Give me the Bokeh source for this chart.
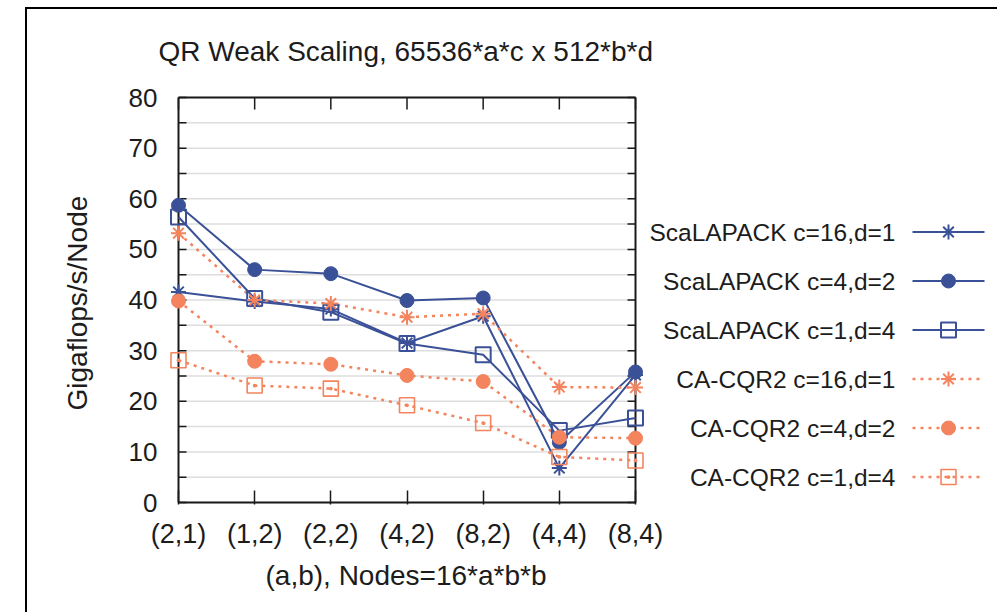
from bokeh.plotting import figure
from bokeh.models import Range1d, FixedTicker, Title, InlineStyleSheet
from bokeh.embed import file_html
from bokeh.resources import INLINE
from bokeh.core.properties import value

# ---------------- data ----------------
categories = ["(2,1)", "(1,2)", "(2,2)", "(4,2)", "(8,2)", "(4,4)", "(8,4)"]
series_names = [
    "ScaLAPACK c=16,d=1",
    "ScaLAPACK c=4,d=2",
    "ScaLAPACK c=1,d=4",
    "CA-CQR2 c=16,d=1",
    "CA-CQR2 c=4,d=2",
    "CA-CQR2 c=1,d=4",
]
scalapack_c16_d1 = [41.6, 39.7, 38.2, 31.5, 36.8, 6.8, 25.2]
scalapack_c4_d2 = [58.7, 46.0, 45.2, 39.9, 40.4, 11.9, 25.8]
scalapack_c1_d4 = [56.4, 40.3, 37.6, 31.4, 29.2, 14.2, 16.7]
cacqr2_c16_d1 = [53.2, 40.0, 39.3, 36.6, 37.3, 22.8, 22.7]
cacqr2_c4_d2 = [39.8, 27.9, 27.3, 25.1, 23.9, 12.9, 12.7]
cacqr2_c1_d4 = [28.1, 23.1, 22.5, 19.2, 15.7, 9.0, 8.3]
y_tick_labels = [0, 10, 20, 30, 40, 50, 60, 70, 80]
y_grid_values = [0, 5, 10, 15, 20, 25, 30, 35, 40, 45, 50, 55, 60, 65, 70, 75, 80]
title_text = "QR Weak Scaling, 65536*a*c x 512*b*d"
x_label_text = "(a,b), Nodes=16*a*b*b"
y_label_text = "Gigaflops/s/Node"

all_series = [scalapack_c16_d1, scalapack_c4_d2, scalapack_c1_d4,
              cacqr2_c16_d1, cacqr2_c4_d2, cacqr2_c1_d4]

# ---------------- styles ----------------
BLUE = "#3b5197"
ORANGE = "#f4845e"
TEXT = "#1c1c1c"
AXIS = "#1a1a1a"
FONT = "Liberation Sans"
styles = [
    dict(color=BLUE, dash="solid", lw=2.0, marker="asterisk", size=15, fill=None, mlw=2.0),
    dict(color=BLUE, dash="solid", lw=2.0, marker="circle", size=14, fill=BLUE, mlw=1.0),
    dict(color=BLUE, dash="solid", lw=2.0, marker="square", size=15, fill=None, mlw=2.0),
    dict(color=ORANGE, dash="3 5", lw=2.5, marker="asterisk", size=15, fill=None, mlw=2.0),
    dict(color=ORANGE, dash="3 5", lw=2.5, marker="circle", size=14, fill=ORANGE, mlw=1.0),
    dict(color=ORANGE, dash="3 5", lw=2.5, marker="square_dot", size=15, fill=None, mlw=1.6),
]

# ---------------- layout geometry (page pixels) ----------------
CANVAS_X0, CANVAS_Y0 = 27, 9           # page position of canvas (after css border)
CANVAS_W, CANVAS_H = 972, 605
BOX_L, BOX_R = 178, 635                # page x of first / last category
BOX_T, BOX_B = 97, 502                 # page y of top / bottom value
FRAME_L, FRAME_R = 160, 999            # page x of bokeh frame
FRAME_T, FRAME_B = 67, 504             # page y of bokeh frame
n = len(categories)
y_lo, y_hi = y_tick_labels[0], y_tick_labels[-1]
ppx = (BOX_R - BOX_L) / (n - 1)
ppy = (BOX_B - BOX_T) / (y_hi - y_lo)
x_start = -(BOX_L - FRAME_L) / ppx
x_end = (n - 1) + (FRAME_R - BOX_R) / ppx
y_start = y_lo - (FRAME_B - BOX_B) / ppy
y_end = y_hi + (BOX_T - FRAME_T) / ppy


def dx(page_x):
    return (page_x - BOX_L) / ppx


def dy(page_y):
    return y_lo + (BOX_B - page_y) / ppy


p = figure(width=CANVAS_W, height=CANVAS_H,
           x_range=Range1d(x_start, x_end), y_range=Range1d(y_start, y_end),
           output_backend="svg", toolbar_location=None,
           min_border_left=FRAME_L - CANVAS_X0, min_border_right=CANVAS_X0 + CANVAS_W - FRAME_R,
           min_border_top=FRAME_T - CANVAS_Y0,
           min_border_bottom=CANVAS_Y0 + CANVAS_H - FRAME_B,
           stylesheets=[InlineStyleSheet(css=":host { border-left: 2px solid #000; border-top: 2px solid #000; margin-left: 25px; margin-top: 7px; }")])
p.outline_line_color = None
p.xgrid.visible = False
p.ygrid.visible = False
p.background_fill_color = "white"
p.border_fill_color = "white"

# main title, above the frame, centred over the plot box
p.title = Title(text=title_text, align="left", offset=-2,
                vertical_align="middle", standoff=0, text_font=FONT,
                text_font_size="28px", text_font_style="normal", text_color=TEXT)

# left axis: labels only
ya = p.yaxis[0]
ya.ticker = FixedTicker(ticks=y_tick_labels)
ya.axis_line_color = None
ya.major_tick_in = 0
ya.major_tick_out = 0
ya.minor_tick_line_color = None
ya.major_label_text_font = FONT
ya.major_label_text_font_size = "26px"
ya.major_label_text_color = TEXT
ya.major_label_standoff = 3

# bottom axis
xa = p.xaxis[0]
xa.ticker = FixedTicker(ticks=list(range(n)))
xa.major_label_overrides = {i: c for i, c in enumerate(categories)}
xa.axis_line_color = None
xa.major_tick_in = 14
xa.major_tick_out = 0
xa.major_tick_line_width = 1.5
xa.major_tick_line_color = AXIS
xa.minor_tick_line_color = None
xa.major_label_text_font = FONT
xa.major_label_text_font_size = "27px"
xa.major_label_text_color = TEXT
xa.major_label_standoff = 14

# axis titles placed in the side panels
p.add_layout(Title(text=x_label_text, align="left", offset=105,
                   vertical_align="top", standoff=17, text_font=FONT,
                   text_font_size="28px", text_font_style="normal",
                   text_color=TEXT), "below")
p.add_layout(Title(text=y_label_text, align="left", offset=FRAME_B - 410,
                   vertical_align="middle", standoff=64, text_font=FONT,
                   text_font_size="28px", text_font_style="normal",
                   text_color=TEXT), "left")

# grid lines
p.segment(x0=0, x1=n - 1, y0=y_grid_values, y1=y_grid_values,
          line_color="#dedede", line_width=1.5)

# y ticks (inward, both sides) and top ticks
ytick_len = 8 / ppx
p.segment(x0=0, x1=ytick_len, y0=y_grid_values, y1=y_grid_values,
          line_color=AXIS, line_width=1.5)
p.segment(x0=n - 1 - ytick_len, x1=n - 1, y0=y_grid_values, y1=y_grid_values,
          line_color=AXIS, line_width=1.5)
xtick_len = 12 / ppy
p.segment(x0=list(range(n)), x1=list(range(n)), y0=y_hi - xtick_len, y1=y_hi,
          line_color=AXIS, line_width=1.5)

# box
p.segment(x0=[0, 0, 0, n - 1], x1=[n - 1, n - 1, 0, n - 1],
          y0=[y_lo, y_hi, y_lo, y_lo], y1=[y_lo, y_hi, y_hi, y_hi],
          line_color=AXIS, line_width=2)

xs = list(range(n))
for vals, st in zip(all_series, styles):
    p.line(xs, vals, line_color=st["color"], line_width=st["lw"], line_dash=st["dash"])
for vals, st in zip(all_series, styles):
    p.scatter(xs, vals, marker=st["marker"], size=st["size"], line_color=st["color"],
              fill_color=st["fill"], line_width=st["mlw"])

# legend (right side, gnuplot style: label then sample)
LEG_TEXT_R = 895
LEG_LINE_L, LEG_LINE_R, LEG_MARK = 912, 984, 948
LEG_ROW0, LEG_STEP = 231.5, 49.0
for i, (name, st) in enumerate(zip(series_names, styles)):
    yy = dy(LEG_ROW0 + i * LEG_STEP)
    p.text(x=[dx(LEG_TEXT_R)], y=[yy], text=[name], text_align="right",
           text_baseline="middle", text_font=value(FONT), text_font_size="24.5px",
           text_color=TEXT)
    p.line([dx(LEG_LINE_L), dx(LEG_LINE_R)], [yy, yy], line_color=st["color"],
           line_width=st["lw"], line_dash=st["dash"])
    p.scatter([dx(LEG_MARK)], [yy], marker=st["marker"], size=st["size"],
              line_color=st["color"], fill_color=st["fill"], line_width=st["mlw"])

open("out.html", "w").write(file_html(p, INLINE))
